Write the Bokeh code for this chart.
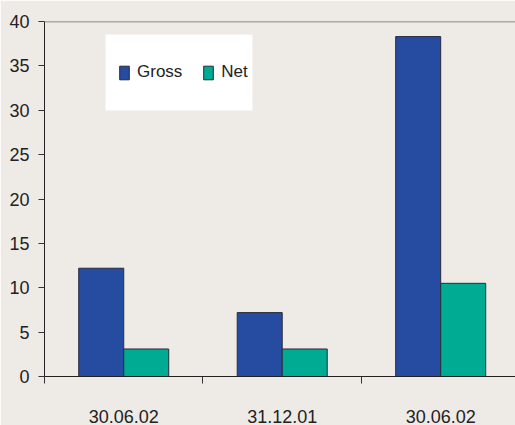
from bokeh.plotting import figure
from bokeh.models import ColumnDataSource, FixedTicker, Span, BoxAnnotation, Legend, LegendItem, Range1d
from bokeh.transform import dodge
from bokeh.embed import file_html
from bokeh.resources import INLINE

categories = ["30.06.02", "31.12.01", "30.06.02"]
gross = [12.2, 7.2, 38.3]
net = [3.1, 3.1, 10.5]
y_ticks = [0, 5, 10, 15, 20, 25, 30, 35, 40]

BG = "#EEEBE7"
BLUE = "#264CA2"
TEAL = "#00AB94"
FONT = "Liberation Sans"
BAR_W = 0.284

pos = [i + 0.5 for i in range(len(categories))]
src = ColumnDataSource(dict(x=pos, gross=gross, net=net))

p = figure(width=515, height=425, x_range=Range1d(0, 2.972), y_range=Range1d(0, 40),
           output_backend="svg", toolbar_location=None,
           min_border_left=44, min_border_top=21, min_border_right=0, min_border_bottom=49,
           background_fill_color=BG, border_fill_color=BG)
p.outline_line_color = None
p.xgrid.visible = False
p.ygrid.visible = False

box = BoxAnnotation(left=0.385, right=1.312, bottom=29.97, top=38.53,
                    fill_color="white", fill_alpha=1.0, line_color=None)
p.add_layout(box)

g = p.vbar(x=dodge('x', -BAR_W / 2, range=p.x_range), top='gross', width=BAR_W, source=src,
           fill_color=BLUE, line_color="#2a2a3a", line_width=1)
n = p.vbar(x=dodge('x', BAR_W / 2, range=p.x_range), top='net', width=BAR_W, source=src,
           fill_color=TEAL, line_color="#2a2a3a", line_width=1)

p.add_layout(Span(location=40, dimension='width', line_color="#666666", line_width=1.5))

xa = p.xaxis[0]
xa.ticker = FixedTicker(ticks=pos, minor_ticks=[0, 1, 2, 3])
xa.major_label_overrides = {x: c for x, c in zip(pos, categories)}
xa.major_tick_out = 0
xa.major_tick_in = 0
xa.minor_tick_out = 7
xa.minor_tick_in = 0
xa.minor_tick_line_color = "#333333"
xa.axis_line_color = "#222222"
xa.major_label_standoff = 26
xa.major_label_text_font = FONT
xa.major_label_text_font_size = "18px"
xa.major_label_text_color = "#222222"

ya = p.yaxis[0]
ya.ticker = FixedTicker(ticks=y_ticks, minor_ticks=[])
ya.major_tick_out = 6
ya.major_tick_in = 0
ya.major_tick_line_color = "#333333"
ya.axis_line_color = "#222222"
ya.major_label_standoff = 9
ya.major_label_text_font = FONT
ya.major_label_text_font_size = "18px"
ya.major_label_text_color = "#222222"

legend = Legend(items=[LegendItem(label="Gross", renderers=[g]), LegendItem(label="Net", renderers=[n])],
                orientation="horizontal", location=(74, 294), padding=0, margin=0, spacing=20,
                glyph_width=12, glyph_height=17, label_standoff=7, label_height=18,
                label_text_font=FONT, label_text_font_size="17px", label_text_color="#222222",
                background_fill_alpha=0, border_line_color=None)
p.add_layout(legend, "center")

html = file_html(p, INLINE)
html = html.replace("<body>", '<body style="background-color:%s;">' % BG, 1)
open("out.html", "w").write(html)
